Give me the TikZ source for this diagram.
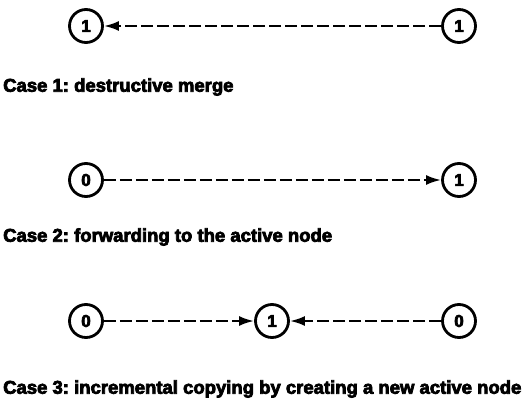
\documentclass[tikz,border=0pt]{standalone}
\usepackage{fontspec}
\setmainfont{Liberation Sans}[BoldFeatures={FakeBold=4}]
\usetikzlibrary{arrows.meta}
\frenchspacing

\tikzset{
  state/.style={circle, draw, line width=2.8pt, minimum size=33pt, inner sep=0pt,
                font=\fontsize{17}{17}\selectfont\bfseries},
  link/.style={line width=2.4pt, dash pattern=on 12pt off 4pt,
               -{Latex[length=15pt,width=10pt]}},
  caption/.style={anchor=west, inner sep=0pt, font=\fontsize{18.5}{20}\selectfont\bfseries}
}

\begin{document}
\begin{tikzpicture}[x=1pt,y=-1pt]
  \useasboundingbox (0,0) rectangle (532,404);

  % case 1
  \node[state] (a1) at (86,26)  {1};
  \node[state] (b1) at (459,26) {1};
  \draw[link] (b1) -- (a1);
  \node[caption] (c1) at (3,87) {Case 1: destructive merge};

  % case 2
  \node[state] (a2) at (86,180)  {0};
  \node[state] (b2) at (459,180) {1};
  \draw[link] (a2) -- (b2);
  \node[caption] (c2) at (3,237) {Case 2: forwarding to the active node};

  % case 3
  \node[state] (a3) at (86,321)  {0};
  \node[state] (m3) at (272,321) {1};
  \node[state] (b3) at (459,321) {0};
  \draw[link] (a3) -- (m3);
  \draw[link] (b3) -- (m3);
  \node[caption] (c3) at (3,389) {Case 3: incremental copying by creating a new active node};
\end{tikzpicture}
\end{document}
